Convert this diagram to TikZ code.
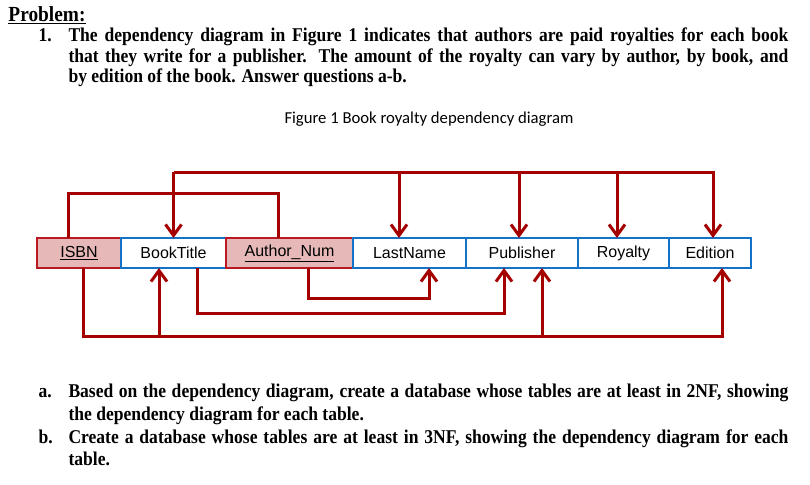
\documentclass[tikz,border=0pt]{standalone}
\usepackage{fontspec}
\setmainfont{Liberation Serif}
\newfontfamily\probfont[FakeStretch=0.90]{Liberation Serif Bold}
\newfontfamily\capfont{Carlito}
\newfontfamily\attrfont{Liberation Sans}
\usetikzlibrary{positioning, arrows.meta}
\definecolor{deparrow}{RGB}{165,0,0}
\definecolor{keyline}{RGB}{185,25,35}
\definecolor{keyfill}{RGB}{230,185,184}
\definecolor{attrline}{RGB}{20,115,200}
\tikzset{node distance = 0pt}
\tikzset{attr/.style = {draw=attrline, line width=2pt, outer sep=0pt, minimum height=30pt, inner sep=0pt, font=\attrfont\fontsize{16}{19}\selectfont}}
\tikzset{key/.style = {attr, draw=keyline, fill=keyfill}}
\tikzset{para/.style = {anchor=base west, inner sep=0pt, text width=720pt, align=justify}}
\tikzset{num/.style = {anchor=base west, inner sep=0pt, font=\probfont\fontsize{19.5}{20.5}\selectfont}}

\begin{document}
\begin{tikzpicture}[x=1pt, y=-1pt, line width=3pt, >={Straight Barb[length=11pt, width=16pt]}]
	\useasboundingbox (0,0) rectangle (810,484);
	% Problem statement
	\node[anchor=base west, inner sep=0pt, font=\probfont\fontsize{21.5}{24}\selectfont] (title) at (7,21.5) {\underline{Problem:}};
	\node[num] (num1) at (37,42) {1.};
	\node[para, font=\probfont\fontsize{19.5}{20.5}\selectfont] (item1) at (67,42) {The dependency diagram in Figure 1 indicates that authors are paid royalties for each book\linebreak that they write for a publisher.  The amount of the royalty can vary by author, by book, and\linebreak by edition of the book.  Answer questions a-b.};
	% Caption
	\node[anchor=base west, inner sep=0pt, font=\capfont\fontsize{16.7}{19}\selectfont] (caption) at (283,124) {Figure 1 Book royalty dependency diagram};

	% Attributes
	\node[key, minimum width=84pt] (isbn) at (79,253) {\underline{ISBN}};
	\node[attr, minimum width=105pt, right=of isbn] (booktitle) {BookTitle};
	\node[key, minimum width=127pt, right=of booktitle] (author) {\underline{Author\_Num}};
	\node[attr, minimum width=113pt, right=of author] (lastname) {LastName};
	\node[attr, minimum width=112pt, right=of lastname] (publisher) {Publisher};
	\node[attr, minimum width=91pt, right=of publisher] (royalty) {Royalty};
	\node[attr, minimum width=82pt, right=of royalty] (edition) {Edition};

	% Lanes
	\coordinate (lane-top) at (0,172);
	\coordinate (lane-key) at (0,193);
	\coordinate (lane-an) at (0,298);
	\coordinate (lane-bt) at (0,313);
	\coordinate (lane-isbn) at (0,336);

	\begin{scope}[draw=deparrow]
		% Composite key
		\draw ([xshift=-11pt]isbn.north) -- ([xshift=-11pt]isbn.north |- lane-key) -| ([xshift=-11.5pt]author.north);
		% Full dependencies
		\draw[->] (booktitle.north |- lane-top) -| ([xshift=3pt]edition.north);
		\draw[->] (booktitle.north |- lane-top) -- (booktitle.north);
		\foreach \target/\shift in {lastname/-10.5, publisher/-3, royalty/-6.5}
			\draw[->] ([xshift=\shift pt]\target.north |- lane-top) -- ([xshift=\shift pt]\target.north);
		% ISBN
		\draw[->] ([xshift=4pt]isbn.south) |- ([xshift=12pt]edition.south |- lane-isbn) -- ([xshift=12pt]edition.south);
		\draw[->] ([xshift=-14.5pt]booktitle.south |- lane-isbn) -- ([xshift=-14.5pt]booktitle.south);
		\draw[->] ([xshift=20pt]publisher.south |- lane-isbn) -- ([xshift=20pt]publisher.south);
		% BookTitle
		\draw[->] ([xshift=23.5pt]booktitle.south) |- ([xshift=-18pt]publisher.south |- lane-bt) -- ([xshift=-18pt]publisher.south);
		% Author_Num
		\draw[->] ([xshift=18.5pt]author.south) |- ([xshift=19.5pt]lastname.south |- lane-an) -- ([xshift=19.5pt]lastname.south);
	\end{scope}

	% Questions
	\node[num] (numa) at (37,397) {a.};
	\node[para, font=\probfont\fontsize{19.5}{23}\selectfont] (itema) at (67,397) {Based on the dependency diagram, create a database whose tables are at least in 2NF, showing\linebreak the dependency diagram for each table.};
	\node[num] (numb) at (37,443) {b.};
	\node[para, font=\probfont\fontsize{19.5}{22.5}\selectfont] (itemb) at (67,443) {Create a database whose tables are at least in 3NF, showing the dependency diagram for each\linebreak table.};
\end{tikzpicture}
\end{document}
